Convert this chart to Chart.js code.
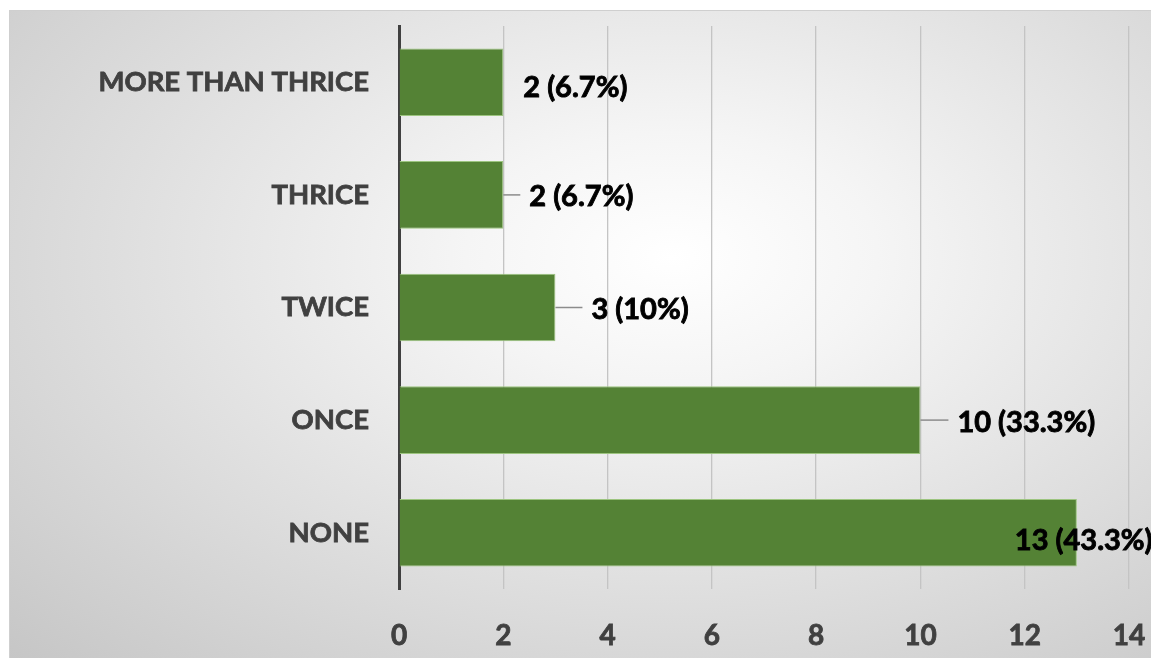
<!DOCTYPE html>
<html>
<head>
<meta charset="utf-8">
<script src="https://cdn.jsdelivr.net/npm/chart.js@4/dist/chart.umd.min.js"></script>
<style>
    html, body { margin: 0; padding: 0; background: #ffffff; }
    .chart-box {
        position: absolute;
        left: 9px;
        top: 10px;
        width: 1142px;
        height: 648px;
        border-top: 1px solid #cfcfcf;
        border-left: 1px solid #cfcfcf;
        box-sizing: border-box;
        background: radial-gradient(ellipse at 58% 38%, #ffffff 0%, #f5f5f5 22%, #dedede 60%, #c6c6c6 100%);
    }
    canvas { display: block; }
</style>
</head>
<body>
<div class="chart-box">
    <canvas id="freqChart" width="1141" height="647"></canvas>
</div>
<script>
// data (top to bottom)
const categories = ['MORE THAN THRICE', 'THRICE', 'TWICE', 'ONCE', 'NONE'];
const counts = [2, 2, 3, 10, 13];
const labels = ['2 (6.7%)', '2 (6.7%)', '3 (10%)', '10 (33.3%)', '13 (43.3%)'];
const xTicks = [0, 2, 4, 6, 8, 10, 12, 14];

// where each data label sits relative to the bar end, and whether it gets a leader line
const labelStyle = [
    { dx: 20, dy: 5, leader: false },
    { dx: 26, dy: 2, leader: true },
    { dx: 36, dy: 2, leader: true },
    { dx: 37, dy: 3, leader: true },
    { dx: -62, dy: 8, leader: false }
];

const dataLabels = {
    id: 'dataLabels',
    afterDatasetsDraw(chart) {
        const ctx = chart.ctx;
        const bars = chart.getDatasetMeta(0).data;
        ctx.save();
        ctx.font = 'bold 29px Lato';
        ctx.textBaseline = 'middle';
        ctx.textAlign = 'left';
        bars.forEach((bar, i) => {
            const s = labelStyle[i];
            const tx = bar.x + s.dx;
            const ty = bar.y + s.dy;
            if (s.leader) {
                ctx.strokeStyle = '#8c8c8c';
                ctx.lineWidth = 1.5;
                ctx.beginPath();
                ctx.moveTo(bar.x, bar.y);
                ctx.lineTo(tx - 9, bar.y);
                ctx.stroke();
            }
            ctx.fillStyle = '#000000';
            ctx.strokeStyle = '#000000';
            ctx.lineWidth = 0.9;
            ctx.fillText(labels[i], tx, ty);
            ctx.strokeText(labels[i], tx, ty);
        });
        ctx.restore();
    }
};

const ctx = document.getElementById('freqChart').getContext('2d');
const freqChart = new Chart(ctx, {
    type: 'bar',
    data: {
        labels: categories,
        datasets: [{
            data: counts,
            backgroundColor: '#548235',
            borderColor: '#9cc47f',
            borderWidth: 1,
            borderSkipped: 'start',
            categoryPercentage: 0.6,
            barPercentage: 1
        }]
    },
    options: {
        indexAxis: 'y',
        responsive: false,
        animation: false,
        layout: { padding: { top: 15, right: 22, left: 0, bottom: 0 } },
        plugins: {
            legend: { display: false },
            tooltip: { enabled: false }
        },
        scales: {
            x: {
                min: 0,
                max: 14,
                afterBuildTicks: scale => {
                    scale.ticks = xTicks.map(v => ({ value: v }));
                },
                afterFit: scale => {
                    scale.height = 69;
                    scale.paddingLeft = 0;
                    scale.paddingRight = 0;
                },
                grid: { color: '#c4c4c4', lineWidth: 1.3, drawTicks: false },
                border: { display: false },
                ticks: {
                    padding: 30,
                    color: '#404040',
                    textStrokeColor: '#404040',
                    textStrokeWidth: 0.8,
                    font: { family: 'Lato', weight: 'bold', size: 28 }
                }
            },
            y: {
                afterFit: scale => {
                    scale.width = 389;
                    scale.paddingTop = 0;
                    scale.paddingBottom = 0;
                },
                grid: { display: false, drawTicks: false },
                border: { display: true, color: '#404040', width: 3 },
                ticks: {
                    padding: 30,
                    color: '#404040',
                    textStrokeColor: '#404040',
                    textStrokeWidth: 0.8,
                    font: { family: 'Lato', weight: 'bold', size: 27.5 }
                }
            }
        }
    },
    plugins: [dataLabels]
});
</script>
</body>
</html>
